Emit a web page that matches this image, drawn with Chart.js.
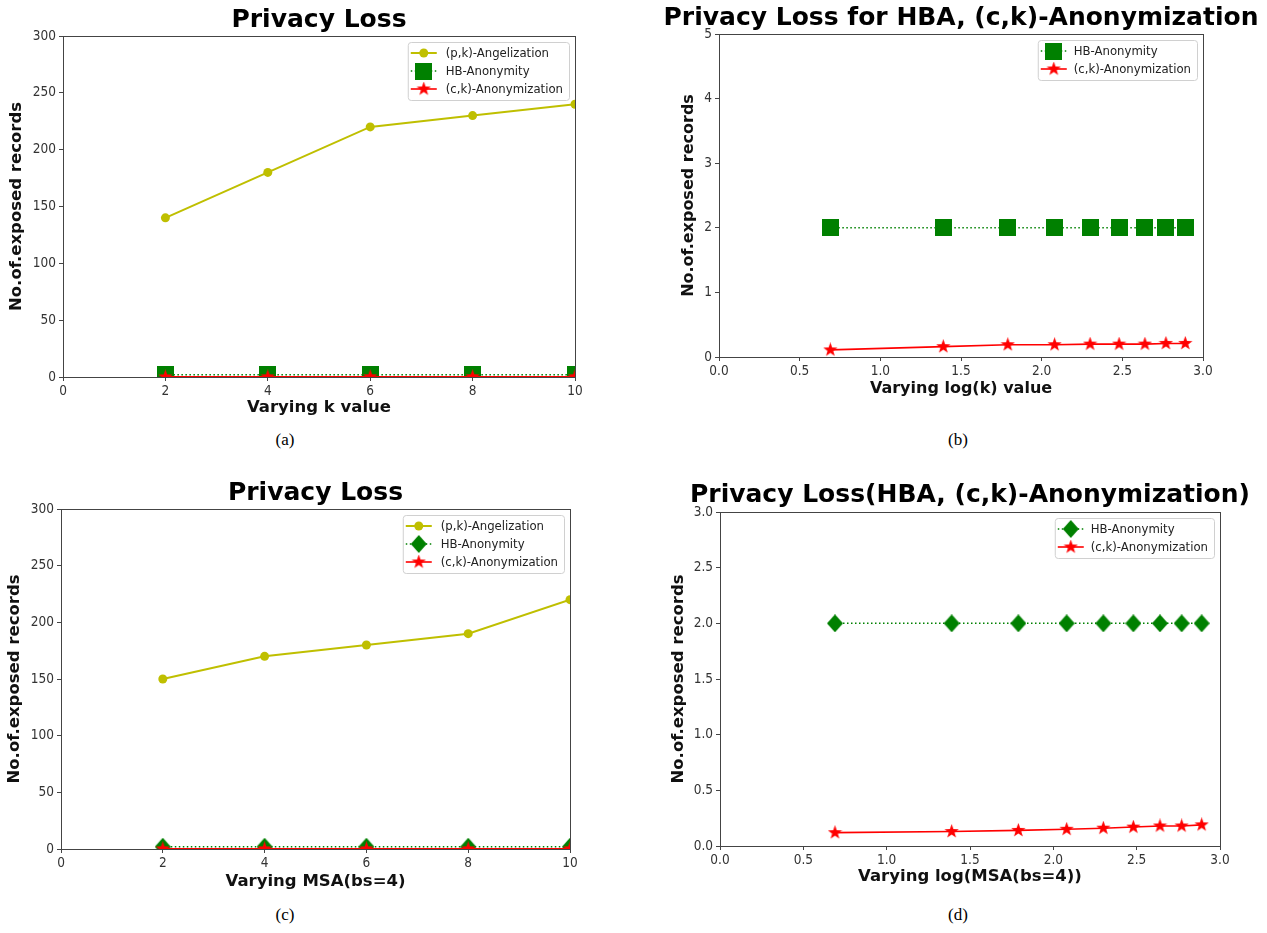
<!DOCTYPE html>
<html>
<head>
<meta charset="utf-8">
<script src="https://cdn.jsdelivr.net/npm/chart.js@4.4.1/dist/chart.umd.min.js"></script>
<style>
  html, body { margin: 0; padding: 0; background: #fff; overflow: hidden; }
  body { width: 1267px; height: 933px; position: relative; }
  canvas { position: absolute; }
  .cap {
    position: absolute;
    font-family: 'Liberation Serif', 'Times New Roman', serif;
    font-size: 17px;
    color: #000;
    transform: translate(-50%, -50%);
  }
</style>
</head>
<body>
<canvas id="chartA" width="600" height="430" style="left:0;top:0"></canvas>
<canvas id="chartB" width="637" height="410" style="left:630px;top:0"></canvas>
<canvas id="chartC" width="600" height="430" style="left:0;top:470px"></canvas>
<canvas id="chartD" width="637" height="420" style="left:630px;top:470px"></canvas>
<div class="cap" style="left:285px;top:440px">(a)</div>
<div class="cap" style="left:958px;top:440px">(b)</div>
<div class="cap" style="left:285px;top:915px">(c)</div>
<div class="cap" style="left:958px;top:915px">(d)</div>

<script>
// (a) varying k
const kValues = [2, 4, 6, 8, 10];
const pkLossK = [140, 180, 220, 230, 240];
const hbLossK = [2, 2, 2, 2, 2];
const ckLossK = [0.10, 0.15, 0.18, 0.19, 0.20];

// (b) varying log(k)
const logK = [0.69, 1.39, 1.79, 2.08, 2.30, 2.48, 2.64, 2.77, 2.89];
const hbLossLogK = [2, 2, 2, 2, 2, 2, 2, 2, 2];
const ckLossLogK = [0.11, 0.16, 0.19, 0.19, 0.20, 0.20, 0.20, 0.21, 0.21];

// (c) varying MSA
const msaValues = [2, 4, 6, 8, 10];
const pkLossMsa = [150, 170, 180, 190, 220];
const hbLossMsa = [2, 2, 2, 2, 2];
const ckLossMsa = [0.12, 0.13, 0.14, 0.15, 0.16];

// (d) varying log(MSA)
const logMsa = [0.69, 1.39, 1.79, 2.08, 2.30, 2.48, 2.64, 2.77, 2.89];
const hbLossLogMsa = [2, 2, 2, 2, 2, 2, 2, 2, 2];
const ckLossLogMsa = [0.12, 0.13, 0.14, 0.15, 0.16, 0.17, 0.18, 0.18, 0.19];

const LABEL_PK = '(p,k)-Angelization';
const LABEL_HB = 'HB-Anonymity';
const LABEL_CK = '(c,k)-Anonymization';

const YELLOW = '#bfbf00';
const GREEN = '#008000';
const RED = '#ff0000';
const SANS = "'DejaVu Sans', sans-serif";
const NARROW = "'DejaVu Sans Condensed', 'DejaVu Sans', sans-serif";

function makeMarker(shape, color, w, h) {
  const c = document.createElement('canvas');
  c.width = w;
  c.height = h;
  const ctx = c.getContext('2d');
  ctx.fillStyle = color;
  ctx.beginPath();
  if (shape === 'square') {
    ctx.rect(0, 0, w, h);
  } else if (shape === 'diamond') {
    ctx.moveTo(w / 2, 0);
    ctx.lineTo(w, h / 2);
    ctx.lineTo(w / 2, h);
    ctx.lineTo(0, h / 2);
  } else if (shape === 'star') {
    const R = w / 2, r = R * 0.4;
    for (let i = 0; i < 10; i++) {
      const rad = i % 2 ? r : R;
      const ang = -Math.PI / 2 + i * Math.PI / 5;
      const px = w / 2 + rad * Math.cos(ang);
      const py = h / 2 + rad * Math.sin(ang);
      if (i === 0) ctx.moveTo(px, py); else ctx.lineTo(px, py);
    }
  }
  ctx.closePath();
  ctx.fill();
  return c;
}

const squareMarker = makeMarker('square', GREEN, 17, 17);
const diamondMarker = makeMarker('diamond', GREEN, 16, 18);
const starMarker = makeMarker('star', RED, 15, 15);

const framePlugin = {
  id: 'mplFrame',
  beforeDatasetsDraw(chart) {
    const { ctx, chartArea: a } = chart;
    ctx.save();
    ctx.strokeStyle = '#444';
    ctx.lineWidth = 1;
    ctx.strokeRect(Math.round(a.left) + 0.5, Math.round(a.top) + 0.5,
      Math.round(a.right - a.left), Math.round(a.bottom - a.top));
    ctx.restore();
  }
};

const titlePlugin = {
  id: 'mplTitle',
  afterDraw(chart, args, opts) {
    const { ctx, chartArea: a } = chart;
    ctx.save();
    ctx.font = opts.font;
    ctx.fillStyle = '#000';
    ctx.textAlign = 'center';
    ctx.textBaseline = 'middle';
    ctx.fillText(opts.text, (a.left + a.right) / 2 + (opts.dx || 0), opts.y);
    ctx.restore();
  }
};

const legendPlugin = {
  id: 'mplLegend',
  afterDraw(chart, args, opts) {
    const { ctx, chartArea: a } = chart;
    const sets = chart.data.datasets;
    ctx.save();
    ctx.font = opts.font;
    const textW = Math.max(...sets.map(d => ctx.measureText(d.label).width));
    const w = opts.textOffset + textW + 6;
    const h = sets.length * opts.rowHeight + 4;
    const x0 = a.right - 6 - w;
    const y0 = a.top + 6;

    ctx.beginPath();
    ctx.roundRect(x0 + 0.5, y0 + 0.5, w, h, 3);
    ctx.fillStyle = 'rgba(255,255,255,0.8)';
    ctx.fill();
    ctx.strokeStyle = '#d0d0d0';
    ctx.lineWidth = 1;
    ctx.stroke();

    sets.forEach((d, i) => {
      const cy = y0 + 2 + opts.rowHeight * (i + 0.5);
      const lx0 = x0 + 3, lx1 = x0 + 29;
      ctx.beginPath();
      ctx.setLineDash(d.borderDash || []);
      ctx.strokeStyle = d.borderColor;
      ctx.lineWidth = d.borderWidth;
      ctx.moveTo(lx0, cy);
      ctx.lineTo(lx1, cy);
      ctx.stroke();
      ctx.setLineDash([]);
      const mx = (lx0 + lx1) / 2;
      if (d.pointStyle instanceof HTMLCanvasElement) {
        const m = d.pointStyle;
        ctx.drawImage(m, mx - m.width / 2, cy - m.height / 2);
      } else {
        ctx.beginPath();
        ctx.fillStyle = d.pointBackgroundColor;
        ctx.arc(mx, cy, d.pointRadius, 0, Math.PI * 2);
        ctx.fill();
      }
      ctx.fillStyle = '#222';
      ctx.textAlign = 'left';
      ctx.textBaseline = 'middle';
      ctx.fillText(d.label, x0 + opts.textOffset, cy + 1);
    });
    ctx.restore();
  }
};

function pkSet(xs, ys) {
  return {
    label: LABEL_PK,
    data: xs.map((x, i) => ({ x, y: ys[i] })),
    borderColor: YELLOW,
    backgroundColor: YELLOW,
    borderWidth: 2,
    pointStyle: 'circle',
    pointRadius: 4.5,
    pointBackgroundColor: YELLOW,
    pointBorderWidth: 0,
    tension: 0,
    clip: 0,
    order: 3
  };
}

function hbSet(xs, ys, marker) {
  return {
    label: LABEL_HB,
    data: xs.map((x, i) => ({ x, y: ys[i] })),
    borderColor: GREEN,
    backgroundColor: GREEN,
    borderWidth: 1.5,
    borderDash: [1.5, 2.5],
    pointStyle: marker,
    pointRadius: 9,
    tension: 0,
    clip: 0,
    order: 2
  };
}

function ckSet(xs, ys) {
  return {
    label: LABEL_CK,
    data: xs.map((x, i) => ({ x, y: ys[i] })),
    borderColor: RED,
    backgroundColor: RED,
    borderWidth: 1.6,
    pointStyle: starMarker,
    pointRadius: 7.5,
    tension: 0,
    clip: 0,
    order: 1
  };
}

function renderPanel(id, cfg) {
  const canvas = document.getElementById(id);
  const tickFont = { family: NARROW, size: 13.5 };
  const axisTitleFont = { family: SANS, size: cfg.axisFont, weight: 'bold', lineHeight: 1.2 };
  return new Chart(canvas, {
    type: 'line',
    data: { datasets: cfg.datasets },
    options: {
      responsive: false,
      animation: false,
      events: [],
      layout: { padding: { top: cfg.area.top, right: canvas.width - cfg.area.right, left: 0, bottom: 0 } },
      scales: {
        x: {
          type: 'linear',
          min: cfg.x.min,
          max: cfg.x.max,
          ticks: {
            stepSize: cfg.x.step,
            color: '#333',
            font: tickFont,
            padding: 2,
            maxRotation: 0,
            autoSkip: false,
            callback: cfg.x.format
          },
          grid: { display: true, drawOnChartArea: false, tickLength: 4, color: '#444' },
          border: { display: false },
          title: { display: true, text: cfg.x.title, color: '#111', font: axisTitleFont, padding: { top: 0, bottom: cfg.x.titlePad } },
          afterFit: s => { s.height = canvas.height - cfg.area.bottom; }
        },
        y: {
          type: 'linear',
          min: cfg.y.min,
          max: cfg.y.max,
          ticks: {
            stepSize: cfg.y.step,
            color: '#333',
            font: tickFont,
            padding: 3,
            autoSkip: false,
            callback: cfg.y.format
          },
          grid: { display: true, drawOnChartArea: false, tickLength: 4, color: '#444' },
          border: { display: false },
          title: { display: true, text: 'No.of.exposed records', color: '#111', font: axisTitleFont, padding: { top: cfg.y.titlePad, bottom: 0 } },
          afterFit: s => { s.width = cfg.area.left; }
        }
      },
      plugins: {
        legend: { display: false },
        tooltip: { enabled: false },
        mplTitle: { text: cfg.title, y: cfg.titleY, dx: cfg.titleDx || 0, font: "bold 25px " + SANS },
        mplLegend: { font: "13px " + NARROW, rowHeight: 18, textOffset: cfg.legendTextOffset }
      }
    },
    plugins: [framePlugin, titlePlugin, legendPlugin]
  });
}

const intLabel = v => String(v);
const oneDecimal = v => Number(v).toFixed(1);

renderPanel('chartA', {
  title: 'Privacy Loss',
  titleY: 20,
  area: { left: 63, top: 36, right: 575, bottom: 377 },
  axisFont: 16.5,
  x: { min: 0, max: 10, step: 2, format: intLabel, title: 'Varying k value', titlePad: 12 },
  y: { min: 0, max: 300, step: 50, format: intLabel, titlePad: 7 },
  legendTextOffset: 38,
  datasets: [pkSet(kValues, pkLossK), hbSet(kValues, hbLossK, squareMarker), ckSet(kValues, ckLossK)]
});

renderPanel('chartB', {
  title: 'Privacy Loss for HBA, (c,k)-Anonymization',
  titleY: 18,
  area: { left: 89, top: 34, right: 573, bottom: 357 },
  axisFont: 16,
  x: { min: 0, max: 3, step: 0.5, format: oneDecimal, title: 'Varying log(k) value', titlePad: 12 },
  y: { min: 0, max: 5, step: 1, format: intLabel, titlePad: 49 },
  legendTextOffset: 36,
  datasets: [hbSet(logK, hbLossLogK, squareMarker), ckSet(logK, ckLossLogK)]
});

renderPanel('chartC', {
  title: 'Privacy Loss',
  titleY: 23,
  area: { left: 61, top: 39, right: 570, bottom: 379 },
  axisFont: 16.5,
  x: { min: 0, max: 10, step: 2, format: intLabel, title: 'Varying MSA(bs=4)', titlePad: 8 },
  y: { min: 0, max: 300, step: 50, format: intLabel, titlePad: 5 },
  legendTextOffset: 38,
  datasets: [pkSet(msaValues, pkLossMsa), hbSet(msaValues, hbLossMsa, diamondMarker), ckSet(msaValues, ckLossMsa)]
});

renderPanel('chartD', {
  title: 'Privacy Loss(HBA, (c,k)-Anonymization)',
  titleY: 25,
  area: { left: 90, top: 42, right: 590, bottom: 376 },
  axisFont: 16.5,
  x: { min: 0, max: 3, step: 0.5, format: oneDecimal, title: 'Varying log(MSA(bs=4))', titlePad: 3 },
  y: { min: 0, max: 3, step: 0.5, format: oneDecimal, titlePad: 39 },
  legendTextOffset: 36,
  datasets: [hbSet(logMsa, hbLossLogMsa, diamondMarker), ckSet(logMsa, ckLossLogMsa)]
});
</script>
</body>
</html>
